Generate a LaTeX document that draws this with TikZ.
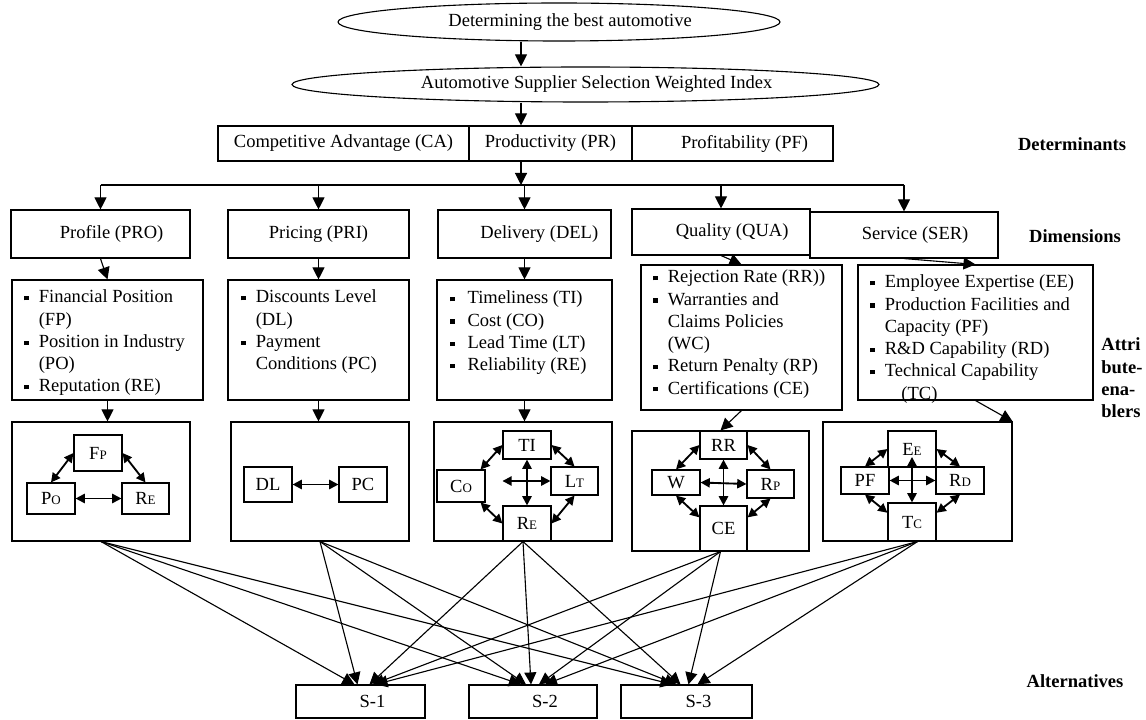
\documentclass[tikz,border=0pt]{standalone}
\usepackage{fontspec}
\setmainfont{Liberation Serif}
\usetikzlibrary{arrows.meta,shapes.geometric,positioning}

\tikzset{
  bx/.style 2 args={draw, line width=0.6pt, minimum width=#1*0.54pt, minimum height=#2*0.54pt, inner sep=0pt},
  oval/.style 2 args={draw, ellipse, line width=0.6pt, minimum width=#1*0.54pt, minimum height=#2*0.54pt, inner sep=0pt},
  arr/.style={line width=0.6pt, -{Triangle[length=6.5pt,width=6.5pt]}},
  dbl/.style={line width=1pt, {Triangle[length=5pt,width=5pt]}-{Triangle[length=5pt,width=5pt]}},
  lbl/.style={font=\bfseries, inner sep=0pt},
  items/.style={anchor=north west, inner sep=0pt, align=left},
}
\newcommand{\sq}{\rule[0.3ex]{2.3pt}{2.3pt}}
\newcommand{\smc}[1]{{\scriptsize #1}}

\begin{document}
\begin{tikzpicture}[x=0.54pt,y=-0.54pt]
  \useasboundingbox (0,0) rectangle (1146,720);
  \coordinate (spine) at (521,0);
  \coordinate (bus) at (0,185);

  % goal and index
  \node[oval={442}{38}] (goal) at (559,22) {\hspace*{12pt}Determining the best automotive};
  \node[oval={587}{35}] (index) at (585.5,84.5) {\hspace*{12pt}Automotive Supplier Selection Weighted Index};
  \draw[arr] (goal.south -| spine) -- (index.north -| spine);

  % determinants
  \node[bx={251}{35}] (ca) at (343.5,143.5) {Competitive Advantage (CA)};
  \node[bx={163}{35}] (prod) at (550.5,143.5) {Productivity (PR)};
  \node[bx={201}{35}] (prof) at (732.5,143.5) {\hspace*{13pt}Profitability (PF)};
  \node[lbl] (detlbl) at (1072,144) {Determinants};
  \draw[arr] (index.south -| spine) -- (prod.north -| spine);
  \draw[arr] (prod.south -| spine) -- (spine |- bus);

  % dimensions
  \node[bx={179}{48}] (pro) at (100.5,234) {\hspace*{12pt}Profile (PRO)};
  \node[bx={181}{48}] (pri) at (318.5,234) {Pricing (PRI)};
  \node[bx={173}{48}] (del) at (524.5,234) {\hspace*{16pt}Delivery (DEL)};
  \node[bx={178}{46}] (qua) at (721,232) {\hspace*{12pt}Quality (QUA)};
  \node[bx={188}{46}] (ser) at (904,235) {\hspace*{12pt}Service (SER)};
  \node[lbl] (dimlbl) at (1075,236) {Dimensions};
  \draw[line width=0.6pt] (pro.north |- bus) -- (ser.north |- bus);
  \foreach \d in {pro,pri,del,qua,ser}
    \draw[arr] (\d.north |- bus) -- (\d.north);

  % attributes
  \node[bx={191}{120}] (proA) at (107.5,340) {};
  \node[bx={181}{120}] (priA) at (318.5,340) {};
  \node[bx={175}{120}] (delA) at (524.5,340) {};
  \node[bx={201}{145}] (quaA) at (741.5,337.5) {};
  \node[bx={235}{135}] (serA) at (975.5,332.5) {};
  \node[items] (proT) at (24,287) {\begin{tabular}{@{}l@{\hspace{5.5pt}}l@{}}
    \sq & Financial Position\\ & (FP)\\ \sq & Position in Industry\\ & (PO)\\ \sq & Reputation (RE)\end{tabular}};
  \node[items] (priT) at (241,287) {\begin{tabular}{@{}l@{\hspace{5.5pt}}l@{}}
    \sq & Discounts Level\\ & (DL)\\ \sq & Payment\\ & Conditions (PC)\end{tabular}};
  \node[items] (delT) at (450,288) {\begin{tabular}{@{}l@{\hspace{7pt}}l@{}}
    \sq & Timeliness (TI)\\ \sq & Cost (CO)\\ \sq & Lead Time (LT)\\ \sq & Reliability (RE)\end{tabular}};
  \node[items] (quaT) at (653,267) {\begin{tabular}{@{}l@{\hspace{5.5pt}}l@{}}
    \sq & Rejection Rate (RR))\\ \sq & Warranties and\\ & Claims Policies\\ & (WC)\\
    \sq & Return Penalty (RP)\\ \sq & Certifications (CE)\end{tabular}};
  \node[items] (serT) at (870,272) {\begin{tabular}{@{}l@{\hspace{5.5pt}}l@{}}
    \sq & Employee Expertise (EE)\\ \sq & Production Facilities and\\ & Capacity (PF)\\
    \sq & R\&D Capability (RD)\\ \sq & Technical Capability\\ & \hspace*{9pt}(TC)\end{tabular}};
  \node[lbl, align=left, anchor=west] (attlbl) at (1101,378) {Attri\\bute-\\ena-\\blers};
  \draw[arr] (pro.south) -- (proA.north);
  \draw[arr] (pri.south) -- (priA.north);
  \draw[arr] (del.south) -- (delA.north);
  \draw[arr] (qua.south) -- (quaA.north);
  \draw[arr] (ser.south) -- (serA.north);

  % Profile network
  \node[bx={178}{119}] (proN) at (101,481.5) {};
  \node[bx={48}{36}] (fp) at (98,453) {F\smc{P}};
  \node[bx={48}{31}] (po) at (51,498.5) {P\smc{O}};
  \node[bx={47}{31}] (reP) at (145.5,498.5) {R\smc{E}};
  \draw[dbl] (po.north) -- (fp.west);
  \draw[dbl] (fp.east) -- (reP.north);
  \draw[dbl] (po.east) -- (reP.west);

  % Pricing network
  \node[bx={178}{119}] (priN) at (320,481.5) {};
  \node[bx={48}{35}] (dl) at (268,484.5) {DL};
  \node[bx={48}{35}] (pc) at (363,484.5) {PC};
  \draw[dbl] (dl.east) -- (pc.west);

  % Delivery network
  \node[bx={178}{119}] (delN) at (523,481.5) {};
  \node[bx={48}{28}] (ti) at (527,445) {TI};
  \node[bx={48}{32}] (co) at (461,486) {C\smc{O}};
  \node[bx={47}{28}] (lt) at (574.5,481) {L\smc{T}};
  \node[bx={48}{35}] (reD) at (527,523.5) {R\smc{E}};
  \draw[dbl] (ti.west) -- ([xshift=-2.7pt]co.north east);
  \draw[dbl] (ti.east) -- (lt.north);
  \draw[dbl] ([xshift=-2.7pt]co.south east) -- (reD.west);
  \draw[dbl] (lt.south) -- (reD.east);
  \draw[dbl] (ti.south) -- (reD.north);
  \draw[dbl] (ti.west |- lt.west) -- (lt.west);

  % Quality network
  \node[bx={177}{120}] (quaN) at (720.5,491) {};
  \node[bx={47}{28}] (rr) at (723.5,445) {RR};
  \node[bx={48}{25}] (w) at (676,482.5) {W};
  \node[bx={47}{28}] (rp) at (770.5,484) {R\smc{P}};
  \node[bx={47}{45}] (ce) at (723.5,528.5) {CE};
  \draw[dbl] (rr.west) -- (w.north);
  \draw[dbl] (rr.east) -- (rp.north);
  \draw[dbl] (w.south) -- ([yshift=6pt]ce.west);
  \draw[dbl] (rp.south) -- ([yshift=6pt]ce.east);
  \draw[dbl] (rr.south) -- (ce.north);
  \draw[dbl] (w.east) -- (rp.west);

  % Service network
  \node[bx={189}{119}] (serN) at (917.5,481.5) {};
  \node[bx={48}{36}] (ee) at (912,449) {E\smc{E}};
  \node[bx={48}{27}] (pf) at (865,480.5) {PF};
  \node[bx={48}{27}] (rd) at (960,480.5) {R\smc{D}};
  \node[bx={48}{38}] (tc) at (912,522) {T\smc{C}};
  \draw[dbl] (ee.west) -- (pf.north);
  \draw[dbl] (ee.east) -- (rd.north);
  \draw[dbl] (pf.south) -- ([yshift=5pt]tc.west);
  \draw[dbl] (rd.south) -- ([yshift=5pt]tc.east);
  \draw[dbl] ([yshift=-4.3pt]ee.center) -- (tc.north);
  \draw[dbl] (pf.east) -- (rd.west);

  % attributes to networks
  \draw[arr] (proA.south) -- (proA.south |- proN.north);
  \draw[arr] (priA.south) -- (priA.south |- priN.north);
  \draw[arr] (delA.south) -- (delA.south |- delN.north);
  \draw[arr] (quaA.south) -- (quaN.north);
  \draw[arr] (serA.south) -- (serN.north east);

  % alternatives
  \node[bx={129}{33}] (s1) at (360.5,701.5) {\hspace*{13pt}S-1};
  \node[bx={128}{33}] (s2) at (533,701.5) {\hspace*{13pt}S-2};
  \node[bx={131}{33}] (s3) at (686.5,701.5) {\hspace*{13pt}S-3};
  \node[lbl] (altlbl) at (1075,681) {Alternatives};
  \foreach \src/\dst/\dx in {proN/s1/-6, priN/s1/-3, delN/s1/9, quaN/s1/12, serN/s1/15,
      proN/s2/-12, priN/s2/-7, delN/s2/-2, quaN/s2/6, serN/s2/12,
      proN/s3/-14, priN/s3/-10, delN/s3/-6, quaN/s3/2, serN/s3/11}
    \draw[arr] (\src.south) -- ([xshift=\dx*0.54pt]\dst.north);
\end{tikzpicture}
\end{document}
